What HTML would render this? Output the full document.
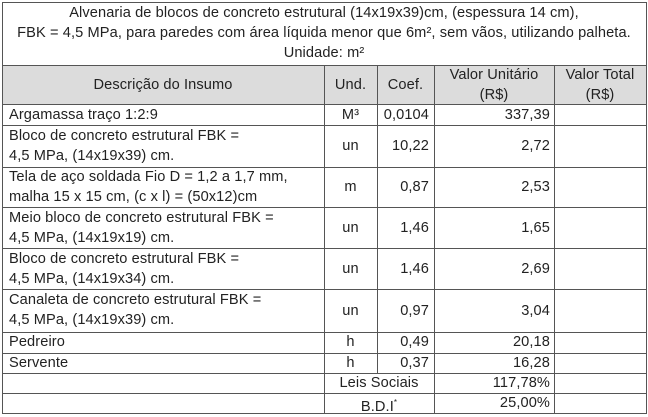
<!DOCTYPE html>
<html><head><meta charset="utf-8"><style>
body{margin:0;width:648px;height:417px;background:#fff;font-family:"Liberation Sans",sans-serif;font-size:14.6px;letter-spacing:0.1px;color:#222;position:relative;overflow:hidden}
.h{position:absolute;height:1px;background:#555}
.v{position:absolute;width:1px;background:#555}
.t{position:absolute;white-space:nowrap;line-height:20px}
.c{text-align:center}.r{text-align:right}
</style></head><body>
<div style="position:absolute;left:2px;top:65px;width:644px;height:39px;background:#dcdcdc"></div>
<div class="h" style="left:2px;top:2px;width:645px"></div>
<div class="h" style="left:2px;top:413px;width:645px"></div>
<div class="v" style="left:2px;top:2px;height:412px"></div>
<div class="v" style="left:646px;top:2px;height:412px"></div>
<div class="h" style="left:2px;top:65px;width:645px"></div>
<div class="h" style="left:2px;top:104px;width:645px"></div>
<div class="h" style="left:2px;top:125px;width:645px"></div>
<div class="h" style="left:2px;top:167px;width:645px"></div>
<div class="h" style="left:2px;top:207px;width:645px"></div>
<div class="h" style="left:2px;top:248px;width:645px"></div>
<div class="h" style="left:2px;top:289px;width:645px"></div>
<div class="h" style="left:2px;top:332px;width:645px"></div>
<div class="h" style="left:2px;top:353px;width:645px"></div>
<div class="h" style="left:2px;top:373px;width:645px"></div>
<div class="h" style="left:2px;top:393px;width:645px"></div>
<div class="v" style="left:324px;top:65px;height:349px"></div>
<div class="v" style="left:377px;top:65px;height:308px"></div>
<div class="v" style="left:434px;top:65px;height:349px"></div>
<div class="v" style="left:554px;top:65px;height:349px"></div>
<div class="t c" style="left:2px;width:644px;top:3px">Alvenaria de blocos de concreto estrutural (14x19x39)cm, (espessura 14 cm),</div>
<div class="t c" style="left:2px;width:644px;top:23px">FBK = 4,5 MPa, para paredes com área líquida menor que 6m², sem vãos, utilizando palheta.</div>
<div class="t c" style="left:2px;width:644px;top:43px">Unidade: m²</div>
<div class="t c" style="left:2px;width:322px;top:75px">Descrição do Insumo</div>
<div class="t c" style="left:324px;width:53px;top:75px">Und.</div>
<div class="t c" style="left:377px;width:57px;top:75px">Coef.</div>
<div class="t c" style="left:434px;width:120px;top:65px">Valor Unitário<br>(R$)</div>
<div class="t c" style="left:554px;width:92px;top:65px">Valor Total<br>(R$)</div>
<div class="t" style="left:9px;top:105px">Argamassa traço 1:2:9</div>
<div class="t c" style="left:324px;width:53px;top:105px">M³</div>
<div class="t r" style="left:377px;width:52px;top:105px">0,0104</div>
<div class="t r" style="left:434px;width:116px;top:105px">337,39</div>
<div class="t" style="left:9px;top:126px">Bloco de concreto estrutural FBK =<br>4,5 MPa, (14x19x39) cm.</div>
<div class="t c" style="left:324px;width:53px;top:136px">un</div>
<div class="t r" style="left:377px;width:52px;top:136px">10,22</div>
<div class="t r" style="left:434px;width:116px;top:136px">2,72</div>
<div class="t" style="left:9px;top:167px">Tela de aço soldada Fio D = 1,2 a 1,7 mm,<br>malha 15 x 15 cm, (c x l) = (50x12)cm</div>
<div class="t c" style="left:324px;width:53px;top:177px">m</div>
<div class="t r" style="left:377px;width:52px;top:177px">0,87</div>
<div class="t r" style="left:434px;width:116px;top:177px">2,53</div>
<div class="t" style="left:9px;top:208px">Meio bloco de concreto estrutural FBK =<br>4,5 MPa, (14x19x19) cm.</div>
<div class="t c" style="left:324px;width:53px;top:218px">un</div>
<div class="t r" style="left:377px;width:52px;top:218px">1,46</div>
<div class="t r" style="left:434px;width:116px;top:218px">1,65</div>
<div class="t" style="left:9px;top:249px">Bloco de concreto estrutural FBK =<br>4,5 MPa, (14x19x34) cm.</div>
<div class="t c" style="left:324px;width:53px;top:259px">un</div>
<div class="t r" style="left:377px;width:52px;top:259px">1,46</div>
<div class="t r" style="left:434px;width:116px;top:259px">2,69</div>
<div class="t" style="left:9px;top:290px">Canaleta de concreto estrutural FBK =<br>4,5 MPa, (14x19x39) cm.</div>
<div class="t c" style="left:324px;width:53px;top:301px">un</div>
<div class="t r" style="left:377px;width:52px;top:301px">0,97</div>
<div class="t r" style="left:434px;width:116px;top:301px">3,04</div>
<div class="t" style="left:9px;top:332px">Pedreiro</div>
<div class="t c" style="left:324px;width:53px;top:332px">h</div>
<div class="t r" style="left:377px;width:52px;top:332px">0,49</div>
<div class="t r" style="left:434px;width:116px;top:332px">20,18</div>
<div class="t" style="left:9px;top:353px">Servente</div>
<div class="t c" style="left:324px;width:53px;top:353px">h</div>
<div class="t r" style="left:377px;width:52px;top:353px">0,37</div>
<div class="t r" style="left:434px;width:116px;top:353px">16,28</div>
<div class="t c" style="left:324px;width:110px;top:373px">Leis Sociais</div>
<div class="t r" style="left:434px;width:116px;top:373px">117,78%</div>
<div class="t c" style="left:324px;width:110px;top:393px">B.D.I<sup style="font-size:8px">*</sup></div>
<div class="t r" style="left:434px;width:116px;top:393px">25,00%</div>
</body></html>
